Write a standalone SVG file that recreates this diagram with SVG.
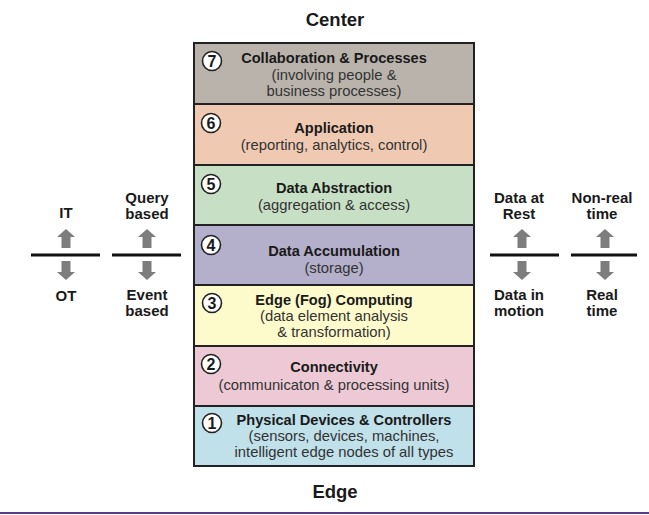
<svg xmlns="http://www.w3.org/2000/svg" width="649" height="515" viewBox="0 0 649 515">
<defs>
<style>
text{font-family:"Liberation Sans",Arial,sans-serif;fill:#1a1a1a;text-anchor:middle}
.t{font-size:14.6px;font-weight:bold}
.s{font-size:14.8px;fill:#333}
.h{font-size:18.5px;font-weight:bold}
.side{font-size:15px;font-weight:bold}
.num{font-size:16px;font-weight:bold}
.layer{stroke:#222;stroke-width:2}
.circ{fill:#fff;stroke:#222;stroke-width:1.6}
.bar{stroke:#111;stroke-width:3}
.arr{fill:#7d7d7d}
</style>
<path id="up" d="M0,-11 L9,-3 L4.5,-3 L4.5,8 L-4.5,8 L-4.5,-3 L-9,-3 Z"/>
<path id="dn" d="M0,11 L9,3 L4.5,3 L4.5,-8 L-4.5,-8 L-4.5,3 L-9,3 Z"/>
</defs>
<rect width="649" height="515" fill="#fff"/>
<text class="h" x="335" y="26">Center</text>
<text class="h" x="335" y="498">Edge</text>
<line x1="0" y1="513" x2="649" y2="513" stroke="#5b3a8c" stroke-width="2"/>

<g id="layer7">
<rect class="layer" x="194" y="43" width="280" height="61" fill="#b9b3ac"/>
<circle class="circ" cx="212" cy="61" r="9.5"/><text class="num" x="212" y="67">7</text>
<text class="t" x="334" y="63">Collaboration &amp; Processes</text>
<text class="s" x="334" y="80">(involving people &amp;</text>
<text class="s" x="334" y="96">business processes)</text>
</g>
<g id="layer6">
<rect class="layer" x="194" y="104" width="280" height="61" fill="#f0c9b2"/>
<circle class="circ" cx="211" cy="123" r="9.5"/><text class="num" x="211" y="129">6</text>
<text class="t" x="334" y="133">Application</text>
<text class="s" x="334" y="150">(reporting, analytics, control)</text>
</g>
<g id="layer5">
<rect class="layer" x="194" y="165" width="280" height="60" fill="#c7e0c5"/>
<circle class="circ" cx="211" cy="184" r="9.5"/><text class="num" x="211" y="190">5</text>
<text class="t" x="334" y="193">Data Abstraction</text>
<text class="s" x="334" y="210">(aggregation &amp; access)</text>
</g>
<g id="layer4">
<rect class="layer" x="194" y="225" width="280" height="60" fill="#b4afcb"/>
<circle class="circ" cx="211" cy="245" r="9.5"/><text class="num" x="211" y="251">4</text>
<text class="t" x="334" y="256">Data Accumulation</text>
<text class="s" x="334" y="273">(storage)</text>
</g>
<g id="layer3">
<rect class="layer" x="194" y="285" width="280" height="61" fill="#fdfbcb"/>
<circle class="circ" cx="212" cy="303" r="9.5"/><text class="num" x="212" y="309">3</text>
<text class="t" x="334" y="305">Edge (Fog) Computing</text>
<text class="s" x="334" y="321">(data element analysis</text>
<text class="s" x="334" y="337">&amp; transformation)</text>
</g>
<g id="layer2">
<rect class="layer" x="194" y="346" width="280" height="60" fill="#ecc9d5"/>
<circle class="circ" cx="211" cy="364" r="9.5"/><text class="num" x="211" y="370">2</text>
<text class="t" x="334" y="372">Connectivity</text>
<text class="s" x="334" y="390">(communicaton &amp; processing units)</text>
</g>
<g id="layer1">
<rect class="layer" x="194" y="406" width="280" height="60" fill="#c0e0ea"/>
<circle class="circ" cx="212" cy="423" r="9.5"/><text class="num" x="212" y="429">1</text>
<text class="t" x="344" y="425">Physical Devices &amp; Controllers</text>
<text class="s" x="344" y="441">(sensors, devices, machines,</text>
<text class="s" x="344" y="457">intelligent edge nodes of all types</text>
</g>

<g id="connectors">
<line class="bar" x1="31" y1="255" x2="100" y2="255"/>
<line class="bar" x1="112" y1="255" x2="181" y2="255"/>
<line class="bar" x1="490" y1="255" x2="559" y2="255"/>
<line class="bar" x1="571" y1="255" x2="637" y2="255"/>
<use href="#up" class="arr" x="66" y="240"/>
<use href="#dn" class="arr" x="66" y="269"/>
<use href="#up" class="arr" x="147" y="240"/>
<use href="#dn" class="arr" x="147" y="269"/>
<use href="#up" class="arr" x="522" y="240"/>
<use href="#dn" class="arr" x="522" y="269"/>
<use href="#up" class="arr" x="605" y="240"/>
<use href="#dn" class="arr" x="605" y="269"/>
</g>

<g id="labels">
<text class="side" x="66" y="218">IT</text>
<text class="side" x="66" y="301">OT</text>
<text class="side" x="147" y="203">Query</text>
<text class="side" x="147" y="219">based</text>
<text class="side" x="147" y="300">Event</text>
<text class="side" x="147" y="316">based</text>
<text class="side" x="519" y="203">Data at</text>
<text class="side" x="519" y="219">Rest</text>
<text class="side" x="519" y="300">Data in</text>
<text class="side" x="519" y="316">motion</text>
<text class="side" x="602" y="203">Non-real</text>
<text class="side" x="602" y="219">time</text>
<text class="side" x="602" y="300">Real</text>
<text class="side" x="602" y="316">time</text>
</g>
</svg>
